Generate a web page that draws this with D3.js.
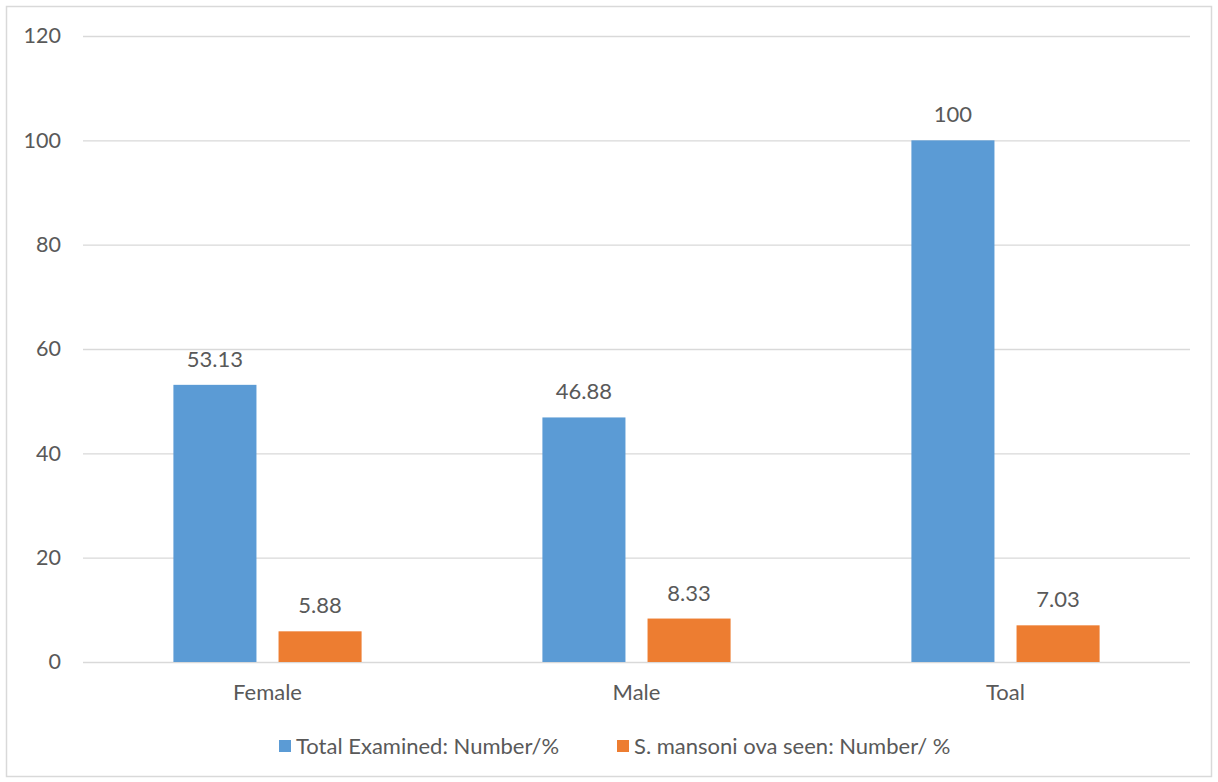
<!DOCTYPE html>
<html>
<head>
<meta charset="utf-8">
<script src="https://cdn.jsdelivr.net/npm/d3@7"></script>
<style>
  html, body { margin: 0; padding: 0; background: #fff; }
  svg text { font-family: Lato, "Open Sans", sans-serif; fill: #595959; }
</style>
</head>
<body>
<svg id="chart" width="1218" height="782"></svg>
<script>
// Categories and series
const categories = ["Female", "Male", "Toal"];
const seriesNames = ["Total Examined: Number/%", "S. mansoni ova seen: Number/ %"];
const totalExamined = [53.13, 46.88, 100];
const mansoniSeen = [5.88, 8.33, 7.03];
const yTicks = [0, 20, 40, 60, 80, 100, 120];
const colors = ["#5B9BD5", "#ED7D31"];

const seriesValues = [totalExamined, mansoniSeen];
const rows = categories.map((c, i) => ({
  category: c,
  values: seriesNames.map((s, j) => ({ series: s, idx: j, value: seriesValues[j][i] }))
}));

const svg = d3.select("#chart");
const W = 1218, H = 782;
const plot = { left: 83, right: 1190, top: 36, bottom: 662 };

// Outer frame
svg.append("rect")
  .attr("x", 6.5).attr("y", 6.5)
  .attr("width", W - 13).attr("height", H - 12)
  .attr("fill", "#fff").attr("stroke", "#D9D9D9").attr("stroke-width", 1.5);

const y = d3.scaleLinear().domain([0, 120]).range([plot.bottom, plot.top]);
const x0 = d3.scaleBand().domain(categories).range([plot.left, plot.right])
  .paddingInner(0.49).paddingOuter(0.245);
const x1 = d3.scaleBand().domain(seriesNames).range([0, x0.bandwidth()])
  .paddingInner(0.21).paddingOuter(0);

// Gridlines and y labels
const yAxis = d3.axisLeft(y).tickValues(yTicks).tickSize(-(plot.right - plot.left)).tickPadding(22);
const gy = svg.append("g").attr("transform", `translate(${plot.left},0)`).call(yAxis);
gy.select(".domain").remove();
gy.selectAll(".tick line").attr("stroke", "#D9D9D9").attr("stroke-width", 1.3);
gy.selectAll(".tick text").attr("font-size", 21.5).style("fill", "#595959")
  .attr("font-family", "Lato, 'Open Sans', sans-serif");

// Bars
const groups = svg.append("g").selectAll("g").data(rows).join("g")
  .attr("transform", d => `translate(${x0(d.category)},0)`);

groups.selectAll("rect").data(d => d.values).join("rect")
  .attr("x", d => x1(d.series))
  .attr("y", d => y(d.value))
  .attr("width", x1.bandwidth())
  .attr("height", d => y(0) - y(d.value))
  .attr("fill", d => colors[d.idx]);

// Value labels
groups.selectAll("text.val").data(d => d.values).join("text")
  .attr("class", "val")
  .attr("x", d => x1(d.series) + x1.bandwidth() / 2)
  .attr("y", d => y(d.value) - 18)
  .attr("text-anchor", "middle")
  .attr("font-size", 22)
  .text(d => d.value);

// Category axis
const xAxis = d3.axisBottom(x0).tickSize(0).tickPadding(22);
const gx = svg.append("g").attr("transform", `translate(0,${plot.bottom})`).call(xAxis);
gx.select(".domain").remove();
gx.selectAll(".tick text").attr("font-size", 22).style("fill", "#595959")
  .attr("font-family", "Lato, 'Open Sans', sans-serif");

// Legend
const legendX = [279, 617];
const legend = svg.append("g");
seriesNames.forEach((s, j) => {
  legend.append("rect")
    .attr("x", legendX[j]).attr("y", 740)
    .attr("width", 12).attr("height", 12)
    .attr("fill", colors[j]);
  legend.append("text")
    .attr("x", legendX[j] + 17).attr("y", 754)
    .attr("font-size", 22)
    .text(s);
});
</script>
</body>
</html>
